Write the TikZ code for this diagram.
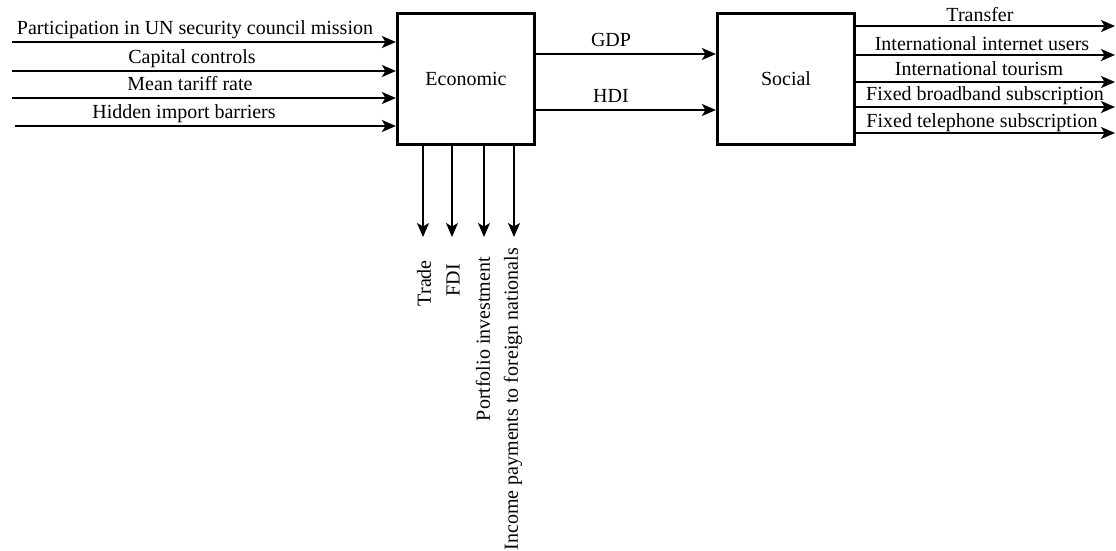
\documentclass[tikz,border=0pt]{standalone}
\usepackage{fontspec}
\setmainfont{Liberation Serif}
\usetikzlibrary{arrows.meta}
\begin{document}
\begin{tikzpicture}[x=1pt,y=-1pt,
  every node/.style={font=\fontsize{20}{23}\selectfont},
  blk/.style={draw,line width=3.2pt,minimum width=137pt,minimum height=131pt,inner sep=0pt},
  arr/.style={line width=1.8pt,-{Stealth[length=14pt,width=12pt,inset=3.5pt]}},
  darr/.style={line width=1.4pt,-{Stealth[length=14pt,width=12pt,inset=3.5pt]}},
  lbl/.style={anchor=base,inner sep=0pt},
  vlbl/.style={rotate=90,anchor=east,inner sep=0pt}]
\useasboundingbox (0,0) rectangle (1116,550);
\node[blk] (eco) at (466,79) {Economic};
\node[blk] (soc) at (786,79) {Social};
% inputs
\coordinate (i1) at (12,42);
\coordinate (i2) at (12,71);
\coordinate (i3) at (12,98);
\coordinate (i4) at (15,126);
\draw[arr] (i1) -- (i1 -| eco.west);
\draw[arr] (i2) -- (i2 -| eco.west);
\draw[arr] (i3) -- (i3 -| eco.west);
\draw[arr] (i4) -- (i4 -| eco.west);
\node[lbl] (l1) at (195,34) {Participation in UN security council mission};
\node[lbl] (l2) at (192,63) {Capital controls};
\node[lbl] (l3) at (190,90) {Mean tariff rate};
\node[lbl] (l4) at (184,118) {Hidden import barriers};
% economic to social
\coordinate (g) at (0,54);
\coordinate (h) at (0,110);
\draw[arr] (g -| eco.east) -- (g -| soc.west);
\draw[arr] (h -| eco.east) -- (h -| soc.west);
\node[lbl] (gdp) at (611,46) {GDP};
\node[lbl] (hdi) at (611,102) {HDI};
% outputs
\coordinate (o1) at (1115,26);
\coordinate (o2) at (1115,55);
\coordinate (o3) at (1115,82);
\coordinate (o4) at (1115,107);
\coordinate (o5) at (1115,133);
\draw[arr] (o1 -| soc.east) -- (o1);
\draw[arr] (o2 -| soc.east) -- (o2);
\draw[arr] (o3 -| soc.east) -- (o3);
\draw[arr] (o4 -| soc.east) -- (o4);
\draw[arr] (o5 -| soc.east) -- (o5);
\node[lbl] (r1) at (980,21) {Transfer};
\node[lbl] (r2) at (982,50) {International internet users};
\node[lbl] (r3) at (979,75) {International tourism};
\node[lbl] (r4) at (985,100) {Fixed broadband subscription};
\node[lbl] (r5) at (982,127) {Fixed telephone subscription};
% down outputs
\coordinate (d1) at (423,237);
\coordinate (d2) at (452,237);
\coordinate (d3) at (484,237);
\coordinate (d4) at (514,237);
\draw[darr] (d1 |- eco.south) -- (d1);
\draw[darr] (d2 |- eco.south) -- (d2);
\draw[darr] (d3 |- eco.south) -- (d3);
\draw[darr] (d4 |- eco.south) -- (d4);
\node[vlbl] (v1) at (424,260) {Trade};
\node[vlbl] (v2) at (453,264) {FDI};
\node[vlbl] (v3) at (483,257) {Portfolio investment};
\node[vlbl] (v4) at (513,248) {Income payments to foreign nationals};
\end{tikzpicture}
\end{document}
